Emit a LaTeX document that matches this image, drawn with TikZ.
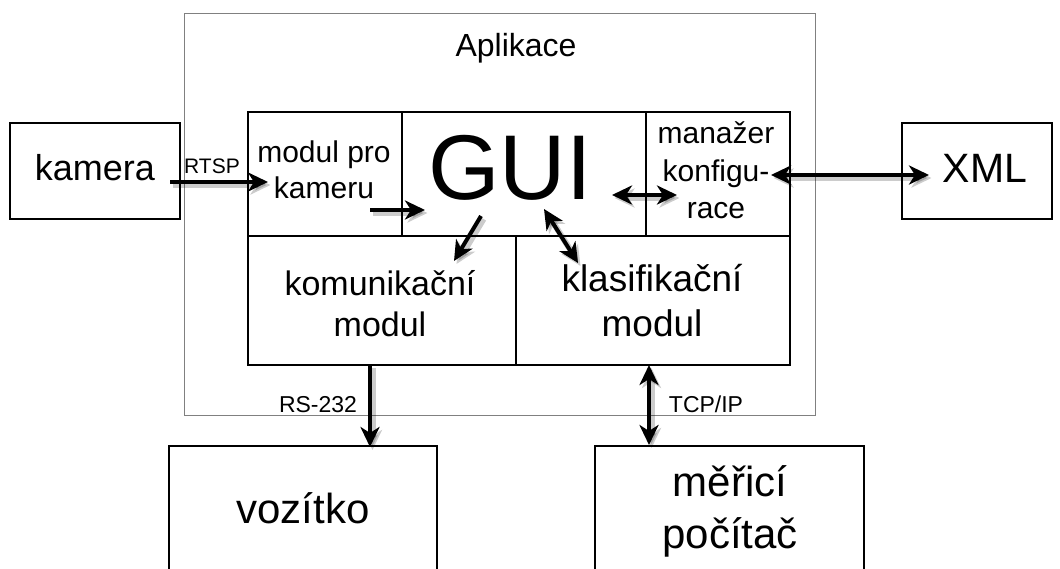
\documentclass[tikz,border=0pt]{standalone}
\usepackage{fontspec}
\setmainfont{Liberation Sans}
\usetikzlibrary{arrows.meta}
\begin{document}
\begin{tikzpicture}[x=1pt,y=-1pt,
  box/.style={draw=black, line width=2pt, rectangle, inner sep=0pt},
  frame/.style={draw=black!50, line width=1pt, rectangle, inner sep=0pt},
  lbl/.style={inner sep=0pt, anchor=base, align=center},
  fs/.style n args={2}{font=\fontsize{#1}{#2}\selectfont},
  headtip/.tip={Stealth[length=20pt,width=19pt,inset=6pt]},
  softshadow/.style={preaction={draw=black, opacity=0.2, line width=6pt,
      transform canvas={shift={(2.5pt,-3pt)}}}},
  link/.style={line width=4pt, softshadow, -headtip},
  duplex/.style={line width=4pt, softshadow, headtip-headtip}
]
\useasboundingbox (0,0) rectangle (1060,569);
\clip (0,0) rectangle (1060,569);

% application frame
\node[frame, minimum width=631pt, minimum height=401pt] (app) at (499.5,214.5) {};
\node[lbl, fs={32}{38}] (apptitle) at (516,57) {Aplikace};

% modules inside the application
\node[box, minimum width=154pt, minimum height=124pt] (cammod) at (325,174) {};
\node[box, minimum width=244pt, minimum height=124pt] (gui) at (524,174) {};
\node[box, minimum width=144pt, minimum height=124pt] (conf) at (718,174) {};
\node[box, minimum width=268pt, minimum height=129pt] (comm) at (382,300.5) {};
\node[box, minimum width=274pt, minimum height=129pt] (clas) at (653,300.5) {};

% external parts
\node[box, minimum width=170pt, minimum height=96pt] (camera) at (95,171) {};
\node[box, minimum width=150pt, minimum height=96pt] (xml) at (977,171) {};
\node[box, minimum width=268pt, minimum height=154pt] (robot) at (303,523) {};
\node[box, minimum width=269pt, minimum height=154pt] (pc) at (729.5,523) {};

% texts
\node[lbl, fs={30}{36}] (cammodtxt) at (324,199) {modul pro\\kameru};
\node[lbl, fs={92}{96}] (guitxt) at (510,200) {GUI};
\node[lbl, fs={30}{37.5}] (conftxt) at (716,219) {manažer\\konfigu-\\race};
\node[lbl, fs={34}{42}] (commtxt) at (380,337) {komunikační\\modul};
\node[lbl, fs={37}{46}] (clastxt) at (652,337) {klasifikační\\modul};
\node[lbl, fs={36}{40}] (cameratxt) at (95,181) {kamera};
\node[lbl, fs={41}{46}] (xmltxt) at (985,183) {XML};
\node[lbl, fs={42}{48}] (robottxt) at (303,523) {vozítko};
\node[lbl, fs={42}{52}] (pctxt) at (730,548) {měřicí\\počítač};
\node[lbl, fs={21}{24}] (rtsp) at (212,174) {RTSP};
\node[lbl, fs={23}{26}] (rs) at (318,412) {RS-232};
\node[lbl, fs={23}{26}] (tcp) at (706,412) {TCP/IP};

% connector end points
\coordinate (rtspA) at (170,182);
\coordinate (rtspB) at (268,182);
\coordinate (feedA) at (370,210);
\coordinate (feedB) at (425,210);
\coordinate (cfgA) at (612,195);
\coordinate (cfgB) at (677,195);
\coordinate (xmlA) at (771,175);
\coordinate (xmlB) at (929,175);
\coordinate (cmdA) at (481,216);
\coordinate (cmdB) at (454,261);
\coordinate (clsA) at (544,209);
\coordinate (clsB) at (578,263);
\coordinate (serA) at (370,365);
\coordinate (serB) at (370,447);
\coordinate (netA) at (649,365);
\coordinate (netB) at (649,445);

% connectors
\draw[link] (rtspA) -- (rtspB);
\draw[link] (feedA) -- (feedB);
\draw[duplex] (cfgA) -- (cfgB);
\draw[duplex] (xmlA) -- (xmlB);
\draw[link] (cmdA) -- (cmdB);
\draw[duplex] (clsA) -- (clsB);
\draw[link] (serA) -- (serB);
\draw[duplex] (netA) -- (netB);
\end{tikzpicture}
\end{document}
